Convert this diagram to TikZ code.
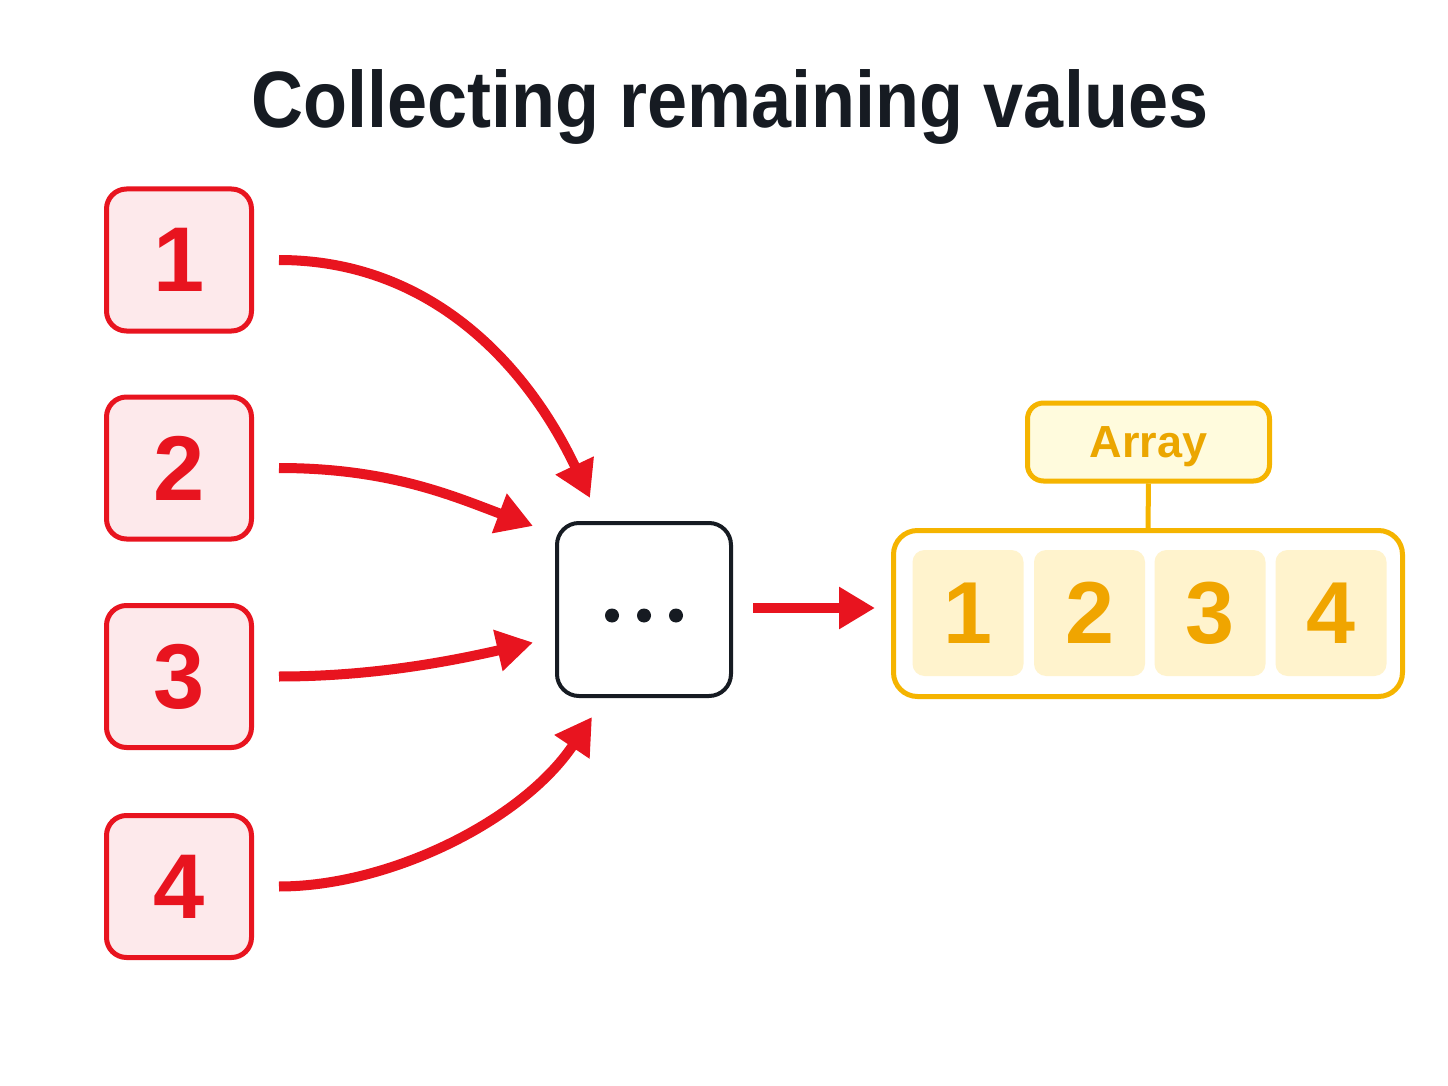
\documentclass[tikz,border=0pt]{standalone}
\usepackage{fontspec}
\setmainfont{Liberation Sans}
\newfontfamily\titlefont[FakeStretch=0.9]{Liberation Sans}
\usetikzlibrary{arrows.meta,calc}
\definecolor{cred}{RGB}{232,20,31}
\definecolor{cpink}{RGB}{253,233,235}
\definecolor{cdark}{RGB}{22,27,34}
\definecolor{cystroke}{RGB}{245,180,0}
\definecolor{clabfill}{RGB}{255,251,221}
\definecolor{ccell}{RGB}{255,243,205}
\definecolor{cydigit}{RGB}{240,165,0}
\definecolor{cytext}{RGB}{235,166,0}
\begin{document}
\begin{tikzpicture}[x=0.5pt,y=-0.5pt,
  redbox/.style={draw=cred, fill=cpink, line width=2.5pt, rounded corners=10pt,
    minimum width=72.5pt, minimum height=71pt, inner sep=0pt,
    font=\fontsize{46}{46}\bfseries\selectfont, text=cred},
  dotsbox/.style={draw=cdark, fill=white, line width=2pt, rounded corners=11pt,
    minimum width=87pt, minimum height=86.5pt, inner sep=0pt},
  labbox/.style={draw=cystroke, fill=clabfill, line width=2.5pt, rounded corners=8pt,
    minimum width=121pt, minimum height=39pt, inner sep=0pt, text depth=0pt,
    font=\fontsize{22.5}{22.5}\bfseries\selectfont, text=cytext},
  contbox/.style={draw=cystroke, fill=white, line width=2.5pt, rounded corners=12pt,
    minimum width=254.5pt, minimum height=83pt, inner sep=0pt},
  cellbox/.style={fill=ccell, rounded corners=6pt, minimum width=55.5pt,
    minimum height=63pt, inner sep=0pt,
    font=\fontsize{44}{44}\bfseries\selectfont, text=cydigit},
  arr/.style={draw=cred, line width=5pt, -{Triangle[length=18pt,width=20pt]}},
  ylink/.style={draw=cystroke, line width=2.5pt},
  titletext/.style={font=\titlefont\fontsize{40}{40}\bfseries\selectfont, text=cdark}
]
\useasboundingbox (0,0) rectangle (1448,1086);

\node[titletext, anchor=base] (title) at (730,128) {Collecting remaining values};

\node[redbox] (b1) at (179,260) {1};
\node[redbox] (b2) at (179,468) {2};
\node[redbox] (b3) at (179,676.5) {3};
\node[redbox] (b4) at (179,886.5) {4};

\node[dotsbox] (dots) at (644,609.5) {};
\fill[cdark] ($(dots.center)+(-32,6)$) circle (3.5pt);
\fill[cdark] ($(dots.center)+(0,6)$) circle (3.5pt);
\fill[cdark] ($(dots.center)+(32,6)$) circle (3.5pt);

\node[contbox] (cont) at (1148,613.5) {};
\node[labbox] (lab) at (1148.5,442) {Array};
\draw[ylink] (lab.south) -- (cont.north);

\node[cellbox] (c1) at (968,613) {1};
\node[cellbox] (c2) at (1089.5,613) {2};
\node[cellbox] (c3) at (1210,613) {3};
\node[cellbox] (c4) at (1331,613) {4};

\draw[arr] ($(b1.east)+(25,0)$) .. controls +(150,0) and +(-64,-135) .. ($(dots.north west)+(35,-23)$);
\draw[arr] ($(b2.east)+(25,0)$) .. controls +(110,0) and +(-80,-30) .. ($(dots.north west)+(-22,5)$);
\draw[arr] ($(b3.east)+(25,0)$) .. controls +(90,0) and +(-88,20) .. ($(dots.west)+(-22,33)$);
\draw[arr] ($(b4.east)+(25,0)$) .. controls +(110,0) and +(-70,104) .. ($(dots.south west)+(37,19)$);
\draw[arr] ($(dots.east)+(20,-1.5)$) -- ($(cont.west)+(-16,-5.5)$);
\end{tikzpicture}
\end{document}
